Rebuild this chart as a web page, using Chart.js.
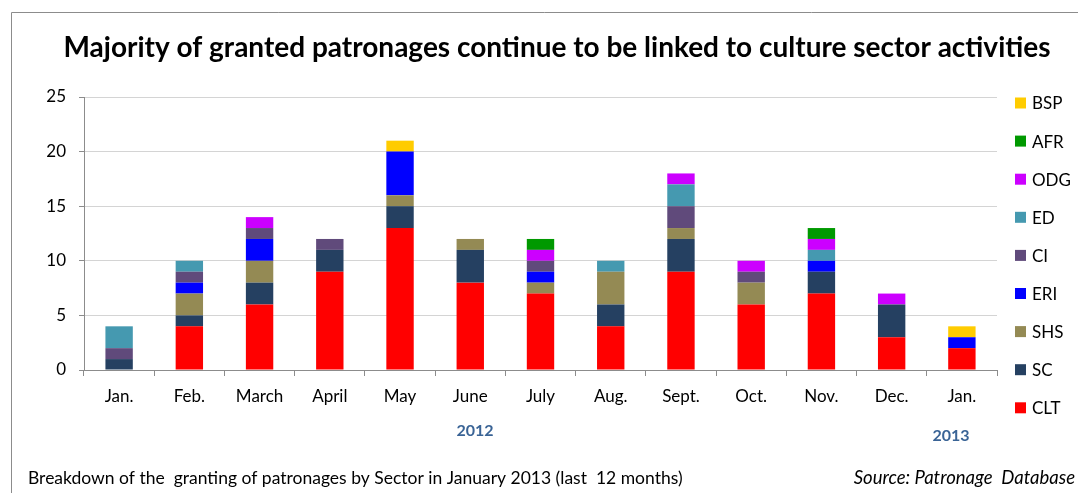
<!DOCTYPE html>
<html>
<head>
<meta charset="utf-8">
<script src="https://cdn.jsdelivr.net/npm/chart.js@4"></script>
<style>
  html, body { margin: 0; padding: 0; background: #fff; }
  #wrap { width: 1078px; height: 493px; }
</style>
</head>
<body>
<div id="wrap"><canvas id="chart" width="1078" height="493"></canvas></div>
<script>
const months = ['Jan.', 'Feb.', 'March', 'April', 'May', 'June', 'July', 'Aug.', 'Sept.', 'Oct.', 'Nov.', 'Dec.', 'Jan.'];

// patronages per sector, Jan 2012 .. Jan 2013
const CLT = [0, 4, 6, 9, 13, 8, 7, 4, 9, 6, 7, 3, 2];
const SC  = [1, 1, 2, 2, 2, 3, 0, 2, 3, 0, 2, 3, 0];
const SHS = [0, 2, 2, 0, 1, 1, 1, 3, 1, 2, 0, 0, 0];
const ERI = [0, 1, 2, 0, 4, 0, 1, 0, 0, 0, 1, 0, 1];
const CI  = [1, 1, 1, 1, 0, 0, 1, 0, 2, 1, 0, 0, 0];
const ED  = [2, 1, 0, 0, 0, 0, 0, 1, 2, 0, 1, 0, 0];
const ODG = [0, 0, 1, 0, 0, 0, 1, 0, 1, 1, 1, 1, 0];
const AFR = [0, 0, 0, 0, 0, 0, 1, 0, 0, 0, 1, 0, 0];
const BSP = [0, 0, 0, 0, 1, 0, 0, 0, 0, 0, 0, 0, 1];

const yTicks = [0, 5, 10, 15, 20, 25];

const sectors = [
  { label: 'CLT', data: CLT, color: '#FF0000' },
  { label: 'SC',  data: SC,  color: '#254061' },
  { label: 'SHS', data: SHS, color: '#948A54' },
  { label: 'ERI', data: ERI, color: '#0000FF' },
  { label: 'CI',  data: CI,  color: '#604A7B' },
  { label: 'ED',  data: ED,  color: '#4599B0' },
  { label: 'ODG', data: ODG, color: '#CC00FF' },
  { label: 'AFR', data: AFR, color: '#009900' },
  { label: 'BSP', data: BSP, color: '#FFCC00' }
];

const FONT = 'Lato, "Open Sans", sans-serif';

// frame, title, legend, year labels and notes
const extras = {
  id: 'extras',
  afterDraw(chart) {
    const ctx = chart.ctx;
    ctx.save();

    ctx.strokeStyle = '#8c8c8c';
    ctx.lineWidth = 1;
    ctx.beginPath();
    ctx.moveTo(11.5, 493);
    ctx.lineTo(11.5, 12.5);
    ctx.lineTo(1078, 12.5);
    ctx.stroke();

    ctx.fillStyle = '#000';
    ctx.textAlign = 'center';
    ctx.textBaseline = 'middle';
    ctx.font = 'bold 28px ' + FONT;
    ctx.fillText('Majority of granted patronages continue to be linked to culture sector activities', 557, 48);

    // legend, top to bottom reversed
    ctx.textAlign = 'left';
    ctx.font = '17px ' + FONT;
    const ds = chart.data.datasets;
    for (let i = ds.length - 1; i >= 0; i--) {
      const y = 103 + (ds.length - 1 - i) * 38.1;
      ctx.fillStyle = ds[i].backgroundColor;
      ctx.fillRect(1015, y - 5.5, 11, 11);
      ctx.fillStyle = '#000';
      ctx.fillText(ds[i].label, 1032, y + 1);
    }

    ctx.fillStyle = '#3A6496';
    ctx.textAlign = 'center';
    ctx.font = 'bold 16px ' + FONT;
    ctx.fillText('2012', 475, 431);
    ctx.fillText('2013', 951, 436);

    ctx.fillStyle = '#000';
    ctx.textAlign = 'left';
    ctx.font = '17.5px ' + FONT;
    ctx.fillText('Breakdown of the  granting of patronages by Sector in January 2013 (last  12 months)', 28, 478);
    ctx.textAlign = 'right';
    ctx.font = 'italic 18.5px ' + FONT;
    ctx.fillText('Source: Patronage  Database', 1075, 478);

    ctx.restore();
  }
};

new Chart(document.getElementById('chart'), {
  type: 'bar',
  data: {
    labels: months,
    datasets: sectors.map(s => ({
      label: s.label,
      data: s.data,
      backgroundColor: s.color,
      borderWidth: 0,
      barPercentage: 0.39,
      categoryPercentage: 1
    }))
  },
  options: {
    responsive: false,
    animation: false,
    layout: { padding: { top: 97, right: 81, bottom: 82, left: 0 } },
    plugins: {
      legend: { display: false },
      title: { display: false },
      tooltip: { enabled: false }
    },
    scales: {
      x: {
        stacked: true,
        afterFit: s => { s.height = 41; },
        grid: { drawOnChartArea: false, drawTicks: true, tickLength: 6, color: '#8c8c8c' },
        border: { color: '#8c8c8c' },
        ticks: { color: '#000', font: { family: FONT, size: 17 }, padding: 10 }
      },
      y: {
        stacked: true,
        min: 0,
        max: 25,
        afterFit: s => { s.width = 84; },
        afterBuildTicks: s => { s.ticks = yTicks.map(v => ({ value: v })); },
        grid: { color: '#d4d4d4', tickLength: 5, tickColor: '#8c8c8c' },
        border: { color: '#8c8c8c' },
        ticks: { color: '#000', font: { family: FONT, size: 17 }, padding: 13 }
      }
    }
  },
  plugins: [extras]
});
</script>
</body>
</html>
